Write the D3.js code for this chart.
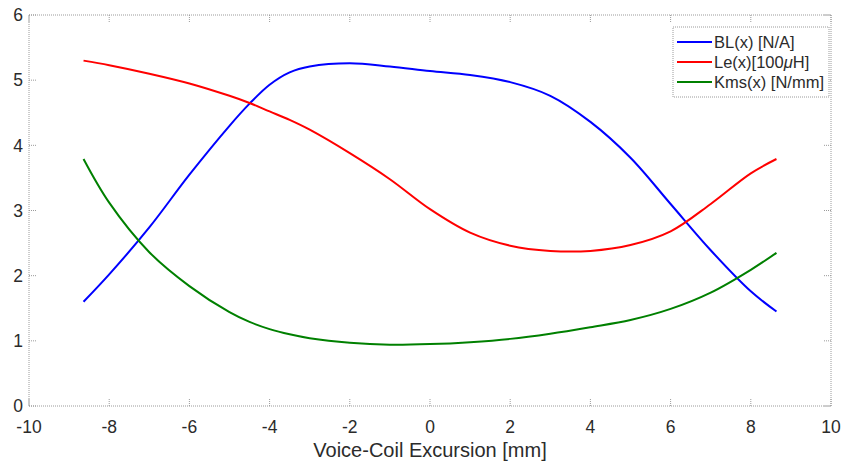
<!DOCTYPE html>
<html lang="en">
<head>
<meta charset="UTF-8">
<title>Voice-Coil Parameters</title>
<script src="https://d3js.org/d3.v7.min.js"></script>
<style>
    body { margin: 0; background: #fff; }
    svg text { font-family: "Liberation Sans", Arial, sans-serif; fill: #2b2b2b; }
</style>
</head>
<body>
<svg width="841" height="464"></svg>
<script>
    // values
    var excursion = [-8.64, -8, -7, -6, -5, -4.5, -4, -3.5, -3, -2, -1, 0, 1, 2, 3, 4, 5, 6, 7, 8, 8.64];
    var bl  = [1.60, 2.02, 2.74, 3.55, 4.30, 4.64, 4.93, 5.12, 5.21, 5.26, 5.21, 5.14, 5.08, 4.97, 4.76, 4.36, 3.81, 3.10, 2.39, 1.76, 1.45];
    var le  = [5.30, 5.23, 5.10, 4.95, 4.76, 4.65, 4.52, 4.39, 4.24, 3.88, 3.48, 3.02, 2.66, 2.46, 2.38, 2.38, 2.47, 2.68, 3.10, 3.57, 3.79];
    var kms = [3.79, 3.12, 2.36, 1.84, 1.44, 1.29, 1.18, 1.10, 1.04, 0.97, 0.94, 0.95, 0.98, 1.03, 1.11, 1.21, 1.32, 1.49, 1.74, 2.09, 2.35];
    var xTicks = [-10, -8, -6, -4, -2, 0, 2, 4, 6, 8, 10];
    var yTicks = [0, 1, 2, 3, 4, 5, 6];
    var seriesNames = ["BL(x) [N/A]", "Le(x)[100μH]", "Kms(x) [N/mm]"];
    var seriesColors = ["#0000ff", "#ff0000", "#008000"];

    var margin = {top: 15, right: 10, bottom: 58, left: 29};
    var width = 841 - margin.left - margin.right;
    var height = 464 - margin.top - margin.bottom;
    var tickLen = 8;

    var svg = d3.select("svg");
    var g = svg.append("g").attr("transform", "translate(" + margin.left + "," + margin.top + ")");

    var x = d3.scaleLinear().domain([-10, 10]).range([0, width]);
    var y = d3.scaleLinear().domain([0, 6]).range([height, 0]);

    // box
    g.append("rect")
        .attr("width", width)
        .attr("height", height)
        .attr("fill", "none")
        .attr("stroke", "#9a9a9a")
        .attr("stroke-dasharray", "1,1");

    // ticks, drawn inward on all four sides
    var tickStyle = function (sel) {
        sel.attr("stroke", "#9a9a9a").attr("stroke-dasharray", "1,1");
    };
    g.append("g").selectAll("line").data(xTicks).enter().append("line")
        .attr("x1", d => x(d)).attr("x2", d => x(d))
        .attr("y1", height).attr("y2", height - tickLen).call(tickStyle);
    g.append("g").selectAll("line").data(xTicks).enter().append("line")
        .attr("x1", d => x(d)).attr("x2", d => x(d))
        .attr("y1", 0).attr("y2", tickLen).call(tickStyle);
    g.append("g").selectAll("line").data(yTicks).enter().append("line")
        .attr("x1", 0).attr("x2", tickLen)
        .attr("y1", d => y(d)).attr("y2", d => y(d)).call(tickStyle);
    g.append("g").selectAll("line").data(yTicks).enter().append("line")
        .attr("x1", width).attr("x2", width - tickLen)
        .attr("y1", d => y(d)).attr("y2", d => y(d)).call(tickStyle);

    // tick labels
    g.append("g").selectAll("text").data(xTicks).enter().append("text")
        .attr("x", d => x(d))
        .attr("y", height + 27)
        .attr("text-anchor", "middle")
        .attr("font-size", "17.5px")
        .text(d => d);
    g.append("g").selectAll("text").data(yTicks).enter().append("text")
        .attr("x", -6)
        .attr("y", d => y(d))
        .attr("dy", "0.36em")
        .attr("text-anchor", "end")
        .attr("font-size", "17.5px")
        .text(d => d);

    g.append("text")
        .attr("x", width / 2)
        .attr("y", height + 51)
        .attr("text-anchor", "middle")
        .attr("font-size", "20px")
        .text("Voice-Coil Excursion [mm]");

    // curves
    var series = [bl, le, kms];
    var line = d3.line()
        .x(d => x(d[0]))
        .y(d => y(d[1]))
        .curve(d3.curveCatmullRom.alpha(0.5));

    g.append("g").selectAll("path").data(series).enter().append("path")
        .attr("d", d => line(excursion.map((v, i) => [v, d[i]])))
        .attr("fill", "none")
        .attr("stroke", (d, i) => seriesColors[i])
        .attr("stroke-width", 2);

    // legend
    var legend = g.append("g").attr("transform", "translate(" + (x(10) - 158) + ",12)");
    legend.append("rect")
        .attr("width", 156)
        .attr("height", 70)
        .attr("fill", "#fff")
        .attr("stroke", "#9a9a9a")
        .attr("stroke-dasharray", "1,1");

    var items = legend.selectAll("g.item").data(seriesNames).enter().append("g")
        .attr("class", "item")
        .attr("transform", (d, i) => "translate(0," + (15 + i * 20) + ")");
    items.append("line")
        .attr("x1", 4).attr("x2", 39)
        .attr("stroke", (d, i) => seriesColors[i])
        .attr("stroke-width", 2);
    items.append("text")
        .attr("x", 41)
        .attr("dy", "0.36em")
        .attr("font-size", "16.5px")
        .each(function (d) {
            var t = d3.select(this);
            var k = d.indexOf("μ");
            if (k < 0) { t.text(d); return; }
            t.append("tspan").text(d.slice(0, k));
            t.append("tspan").attr("font-style", "italic").text("μ");
            t.append("tspan").text(d.slice(k + 1));
        });
</script>
</body>
</html>
